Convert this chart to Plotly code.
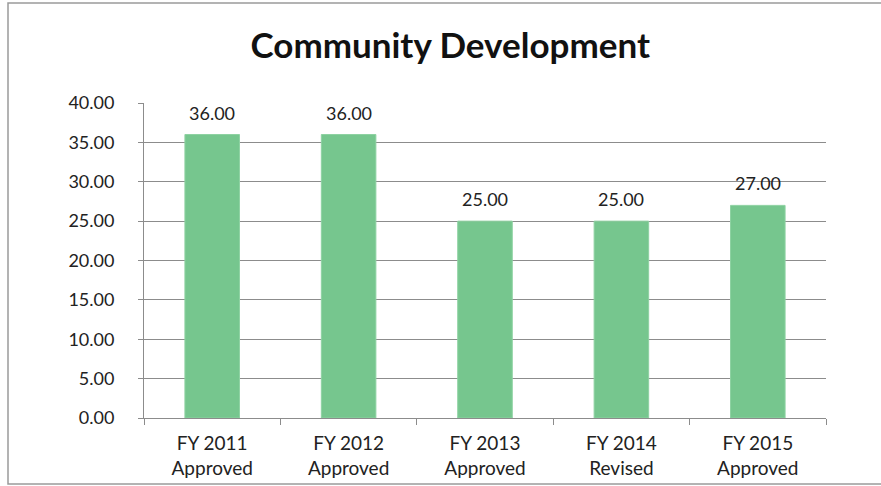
import plotly.graph_objects as go

categories = ["FY 2011<br>Approved", "FY 2012<br>Approved", "FY 2013<br>Approved",
              "FY 2014<br>Revised", "FY 2015<br>Approved"]
values = [36.00, 36.00, 25.00, 25.00, 27.00]
y_ticks = [0, 5, 10, 15, 20, 25, 30, 35, 40]

font_family = "Lato, 'Open Sans', sans-serif"
text_color = "#222222"
line_gray = "#8c8c8c"

fig = go.Figure(
    go.Bar(
        x=categories,
        y=values,
        marker=dict(color="#76C68E", line=dict(color="#8ED2A2", width=1)),
        width=0.4,
        hoverinfo="x+y",
    )
)

# value labels sitting above each bar
for cat, val in zip(categories, values):
    fig.add_annotation(
        x=cat, y=val, xref="x", yref="y",
        text=f"{val:.2f}", showarrow=False,
        yanchor="bottom", yshift=9,
        font=dict(family=font_family, size=18, color=text_color),
    )

fig.update_layout(
    width=881,
    height=486,
    margin=dict(l=144, r=55, t=103, b=68),
    paper_bgcolor="white",
    plot_bgcolor="white",
    showlegend=False,
    title=dict(
        text="<b>Community Development</b>",
        x=0.449, xref="paper", xanchor="center",
        y=0.905, yref="container", yanchor="middle",
        font=dict(family=font_family, size=35, color="#111111"),
    ),
    xaxis=dict(
        automargin=False,
        showline=True, linecolor=line_gray, linewidth=1,
        ticks="outside", ticklen=6, tickcolor=line_gray,
        tickson="boundaries",
        ticklabelstandoff=8,
        tickfont=dict(family=font_family, size=19, color=text_color),
        showgrid=False,
    ),
    yaxis=dict(
        automargin=False,
        range=[0, 40],
        tickvals=y_ticks,
        ticktext=[f"{t:.2f}" for t in y_ticks],
        tickfont=dict(family=font_family, size=18, color=text_color),
        ticklabelstandoff=20,
        showline=True, linecolor=line_gray, linewidth=1,
        ticks="outside", ticklen=5, tickcolor=line_gray,
        showgrid=True, gridcolor=line_gray, gridwidth=1,
        zeroline=False,
    ),
    shapes=[
        dict(type="rect", xref="paper", yref="paper",
             x0=(8 - 144) / 682, x1=(890 - 144) / 682,
             y0=(418 - 484) / 315, y1=(418 - 3) / 315,
             line=dict(color="#9a9a9a", width=1.5), fillcolor="rgba(0,0,0,0)",
             layer="below"),
    ],
)

fig.write_html("out.html")
